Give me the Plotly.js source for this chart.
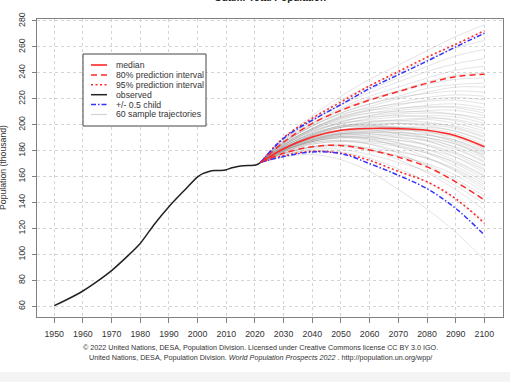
<!DOCTYPE html>
<html>
<head>
<meta charset="utf-8">
<script src="https://cdn.plot.ly/plotly-3.0.1.min.js"></script>
<style>
html, body { margin: 0; padding: 0; background: #f4f4f4; }
#chart { width: 510px; height: 372px; background: #fff; }
</style>
</head>
<body>
<div id="chart"></div>
<script>
// ---- Data ----
const obsYears = [1950, 1955, 1960, 1965, 1970, 1975, 1980, 1985, 1990, 1995, 2000, 2002, 2004, 2006, 2008, 2010, 2012, 2014, 2016, 2018, 2020, 2021, 2022];
const obsPop   = [60.5, 65.8, 71.8, 79.2, 87.5, 97.5, 108.5, 123.5, 136.8, 148.5, 159.8, 162.5, 164.0, 164.7, 164.7, 165.2, 166.8, 167.8, 168.4, 168.6, 168.8, 169.5, 171.0];

const projYears   = [2022, 2030, 2040, 2050, 2060, 2070, 2080, 2090, 2100];
const medianPop   = [171, 181.5, 190.5, 195.7, 197.1, 197.0, 195.7, 191.5, 183.0];
const pi80Low     = [171, 178.0, 183.0, 184.0, 180.5, 175.0, 167.5, 156.0, 142.0];
const pi80High    = [171, 186.5, 201.0, 211.0, 219.0, 225.5, 232.0, 237.0, 239.0];
const pi95Low     = [171, 176.0, 179.5, 178.0, 172.5, 164.0, 156.0, 143.0, 124.0];
const pi95High    = [171, 190.0, 205.0, 217.5, 230.0, 241.0, 252.0, 262.0, 272.5];
const halfChildLow  = [171, 175.5, 179.0, 177.7, 170.0, 161.0, 150.7, 135.5, 115.0];
const halfChildHigh = [171, 189.5, 203.5, 215.5, 228.0, 238.5, 249.0, 260.0, 270.5];

// 60 sample trajectories (values at projYears)
const trajectories = [
  [171,175,177,173,164,150,135,117,96],
  [171,177,180,179,174,166,156,142,126],
  [171,178,183,185,181,173,163,150,134],
  [171,177,181,181,177,171,164,153,139],
  [171,179,186,188,185,178,168,156,142],
  [171,178,183,184,181,176,169,158,145],
  [171,178,182,183,180,176,170,161,148],
  [171,180,188,191,189,183,175,164,150],
  [171,179,185,187,185,180,174,165,152],
  [171,178,183,184,182,179,174,166,154],
  [171,180,187,190,188,184,178,168,156],
  [171,181,189,193,191,186,179,170,158],
  [171,179,185,187,186,183,178,171,160],
  [171,180,187,190,189,186,181,172,161],
  [171,181,189,193,193,190,184,175,163],
  [171,179,186,188,187,185,181,175,165],
  [171,180,187,191,190,188,184,177,166],
  [171,182,191,196,196,193,188,179,168],
  [171,180,187,190,190,188,185,178,169],
  [171,181,188,192,192,191,187,181,171],
  [171,182,191,196,197,195,190,182,172],
  [171,180,187,191,191,190,188,183,174],
  [171,181,189,193,194,193,190,185,175],
  [171,182,192,198,199,197,193,186,176],
  [171,180,188,192,193,192,190,185,177],
  [171,181,190,194,195,194,192,187,178],
  [171,183,193,199,200,198,195,188,179],
  [171,180,188,193,194,194,192,188,180],
  [171,181,190,195,196,196,194,190,181],
  [171,182,192,198,199,198,196,191,182],
  [171,180,188,193,195,196,195,191,184],
  [171,182,191,196,198,198,197,193,185],
  [171,183,193,199,201,201,199,195,187],
  [171,181,189,194,197,198,198,195,188],
  [171,182,192,198,200,201,200,197,190],
  [171,184,195,201,203,203,202,198,191],
  [171,181,190,196,199,201,201,199,193],
  [171,183,193,199,202,203,204,201,195],
  [171,184,196,203,206,207,206,203,197],
  [171,182,191,198,202,204,205,204,199],
  [171,183,194,201,204,206,207,206,201],
  [171,185,197,205,209,210,210,208,203],
  [171,182,192,200,205,208,209,208,205],
  [171,184,195,202,207,209,211,211,207],
  [171,185,197,206,211,213,214,213,209],
  [171,183,194,202,207,211,213,214,211],
  [171,184,196,204,209,212,215,216,213],
  [171,186,199,208,213,216,218,219,216],
  [171,184,196,205,211,215,219,221,219],
  [171,185,197,206,212,217,221,223,222],
  [171,186,199,209,216,221,224,226,225],
  [171,185,197,207,214,220,225,229,229],
  [171,186,199,209,216,222,228,231,232],
  [171,187,201,212,220,226,231,235,236],
  [171,186,200,211,219,226,233,238,240],
  [171,187,201,213,222,229,236,242,245],
  [171,188,203,215,225,233,241,247,251],
  [171,188,203,216,227,236,245,253,258],
  [171,189,205,219,230,240,250,259,265],
  [171,190,207,222,235,246,257,268,277]
];

const xTicks = [1950,1960,1970,1980,1990,2000,2010,2020,2030,2040,2050,2060,2070,2080,2090,2100];
const yTicks = [60,80,100,120,140,160,180,200,220,240,260,280];

const titleText = "Guam: Total Population";
const yTitleText = "Population (thousand)";
const legendLabels = ["median", "80% prediction interval", "95% prediction interval", "observed", "+/- 0.5 child", "60 sample trajectories"];
const footer1 = "\u00a9 2022 United Nations, DESA, Population Division. Licensed under Creative Commons license CC BY 3.0 IGO.";
const footer2 = "United Nations, DESA, Population Division. <i>World Population Prospects 2022</i> . http://population.un.org/wpp/";

// ---- Styles ----
const RED = "rgb(255,40,40)";
const BLUE = "rgb(50,50,255)";
const BLACK = "#222";
const GREY_TRAJ = "rgba(150,150,150,0.26)";
const DASH = "6px,4px";
const DOT = "2px,2.5px";
const DASHDOT = "5px,2px,1.5px,2px";
const FONT = "Liberation Sans, Arial, Helvetica, sans-serif";

const traces = [];
trajectories.forEach(function (tr) {
  traces.push({x: projYears, y: tr, type: "scatter", mode: "lines",
    line: {color: GREY_TRAJ, width: 1, shape: "spline"}, hoverinfo: "skip", showlegend: false});
});
traces.push({x: obsYears, y: obsPop, type: "scatter", mode: "lines",
  line: {color: BLACK, width: 1.5, shape: "spline", smoothing: 0.6}, showlegend: false});
function qLine(y, color, dash, width) {
  return {x: projYears, y: y, type: "scatter", mode: "lines",
    line: {color: color, width: width, dash: dash, shape: "spline"}, showlegend: false};
}
traces.push(qLine(pi80Low, RED, DASH, 1.5));
traces.push(qLine(pi80High, RED, DASH, 1.5));
traces.push(qLine(pi95Low, RED, DOT, 1.6));
traces.push(qLine(pi95High, RED, DOT, 1.6));
traces.push(qLine(halfChildLow, BLUE, DASHDOT, 1.5));
traces.push(qLine(halfChildHigh, BLUE, DASHDOT, 1.5));
traces.push(qLine(medianPop, RED, "solid", 1.6));

// ---- Layout geometry (pixels -> paper) ----
const M = {l: 37, r: 7, t: 19, b: 55};
const W = 510, H = 372;
const PW = W - M.l - M.r, PH = H - M.t - M.b;
function px(x) { return (x - M.l) / PW; }
function py(y) { return (H - M.b - y) / PH; }

const shapes = [];
const annotations = [];
// legend box
shapes.push({type: "rect", xref: "paper", yref: "paper", x0: px(83), x1: px(206), y0: py(54), y1: py(126),
  line: {color: "#444", width: 1}, fillcolor: "#fff", layer: "above"});
const legendStyles = [
  {color: RED, dash: "solid", width: 1.6},
  {color: RED, dash: DASH, width: 1.5},
  {color: RED, dash: DOT, width: 1.6},
  {color: BLACK, dash: "solid", width: 1.5},
  {color: BLUE, dash: DASHDOT, width: 1.5},
  {color: "#d3d3d3", dash: "solid", width: 1.2}
];
legendLabels.forEach(function (lab, i) {
  const yy = 65 + i * 9.9;
  shapes.push({type: "line", xref: "paper", yref: "paper", x0: px(91), x1: px(107), y0: py(yy), y1: py(yy),
    line: legendStyles[i], layer: "above"});
  annotations.push({xref: "paper", yref: "paper", x: px(114), y: py(yy), xanchor: "left", yanchor: "middle",
    text: lab, showarrow: false, font: {family: FONT, size: 8.7, color: "#333"}});
});
// title (cut off at the top like the reference)
annotations.push({xref: "paper", yref: "paper", x: px(270), y: 1, xanchor: "center", yanchor: "bottom", yshift: 14,
  text: "<b>" + titleText + "</b>", showarrow: false, font: {family: FONT, size: 10, color: "#222"}});
// y title
annotations.push({xref: "paper", yref: "paper", x: px(3), y: 0.5, xanchor: "center", yanchor: "middle",
  textangle: -90, text: yTitleText, showarrow: false, font: {family: FONT, size: 8.7, color: "#333"}});
// footer
annotations.push({xref: "paper", yref: "paper", x: px(260), y: py(347.7), xanchor: "center", yanchor: "middle",
  text: footer1, showarrow: false, font: {family: FONT, size: 7.2, color: "#333"}});
annotations.push({xref: "paper", yref: "paper", x: px(260), y: py(357.7), xanchor: "center", yanchor: "middle",
  text: footer2, showarrow: false, font: {family: FONT, size: 7.2, color: "#333"}});

const axisCommon = {
  showline: true, mirror: true, linecolor: "#808080", linewidth: 1.2,
  ticks: "outside", tickcolor: "#808080", tickwidth: 1,
  showgrid: true, gridcolor: "#d4d4d4", griddash: "dot", gridwidth: 1,
  zeroline: false, tickfont: {family: FONT, size: 8.8, color: "#333"}, fixedrange: true
};

const layout = {
  width: W, height: H, margin: M,
  paper_bgcolor: "#fff", plot_bgcolor: "#fff",
  showlegend: false,
  xaxis: Object.assign({}, axisCommon, {range: [1944, 2106.5], tickmode: "array", tickvals: xTicks,
    ticktext: xTicks.map(String), ticklen: 5, ticklabelstandoff: 3}),
  yaxis: Object.assign({}, axisCommon, {range: [51.75, 281.5], tickmode: "array", tickvals: yTicks,
    ticktext: yTicks.map(String), ticklen: 4, tickangle: -90, ticklabelstandoff: 3}),
  shapes: shapes,
  annotations: annotations
};

Plotly.newPlot("chart", traces, layout, {staticPlot: true, displayModeBar: false});
</script>
</body>
</html>
